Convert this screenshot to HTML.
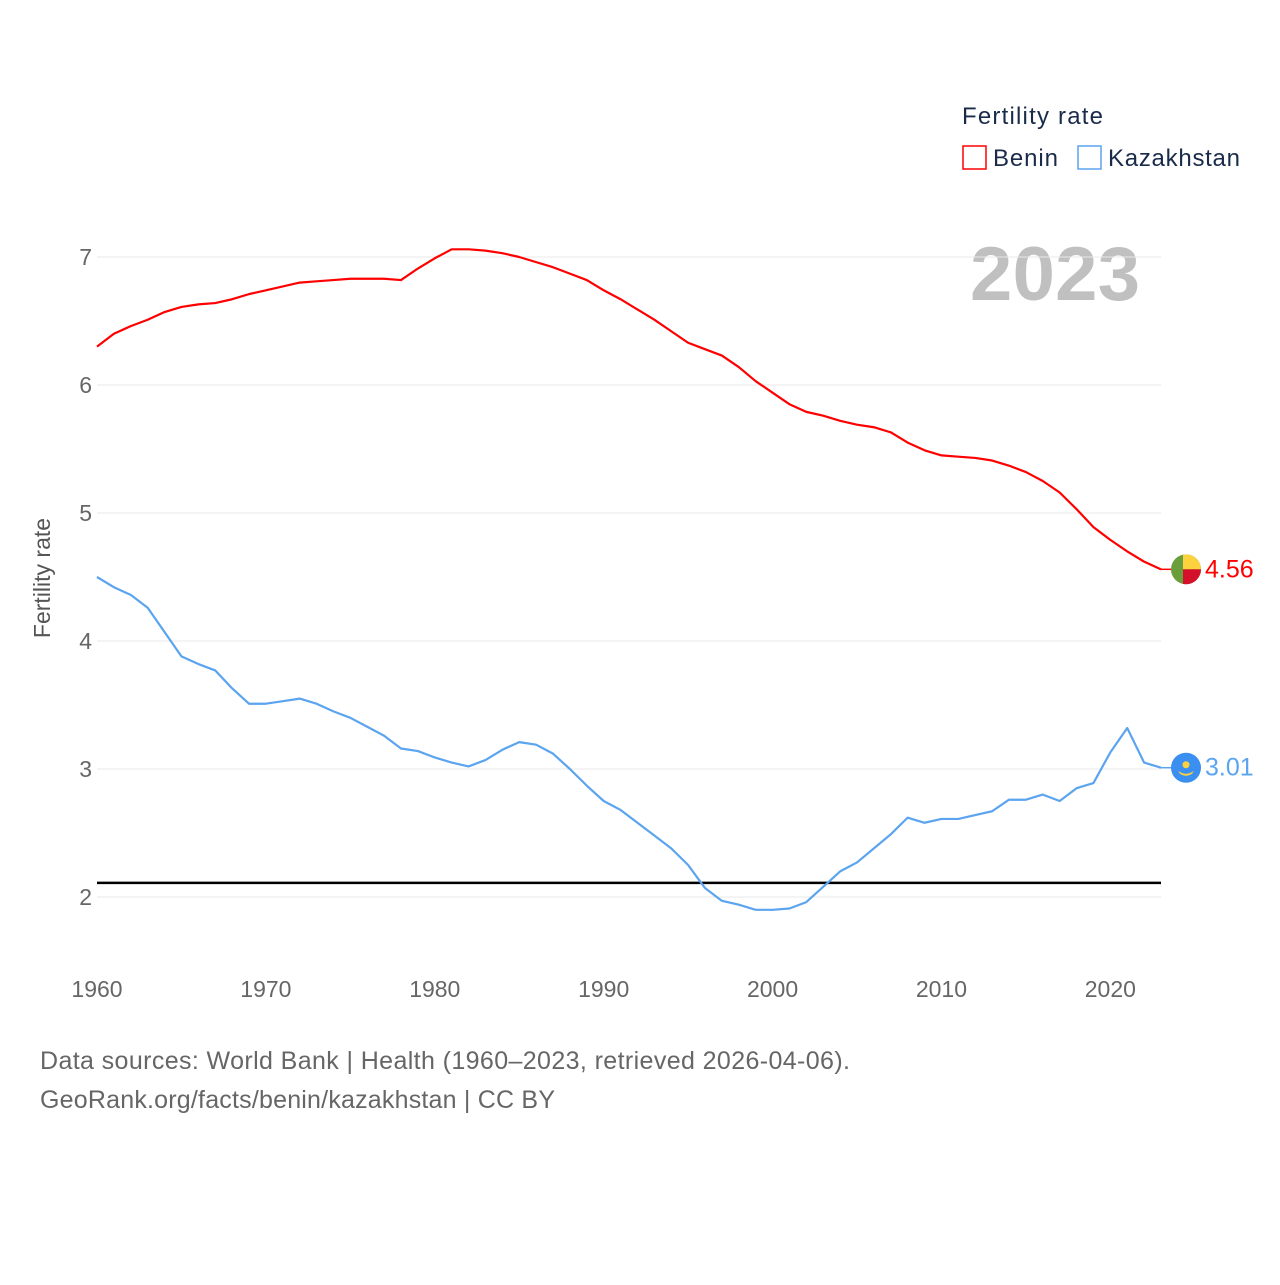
<!DOCTYPE html>
<html><head><meta charset="utf-8"><style>
body{margin:0;background:#fff;}
svg text{font-family:"Liberation Sans",sans-serif;}
</style></head><body>
<svg id="c" width="1280" height="1280" xmlns="http://www.w3.org/2000/svg">
<text x="962" y="124" font-size="24" fill="#1a2b4a" textLength="141">Fertility rate</text>
<g><rect x="963" y="146" width="23" height="23" fill="none" stroke="#ff0000" stroke-width="1.5"/><text x="993" y="166" font-size="24" fill="#1a2b4a" textLength="65">Benin</text></g>
<g><rect x="1078" y="146" width="23" height="23" fill="none" stroke="#5ba4ef" stroke-width="1.5"/><text x="1108" y="166" font-size="24" fill="#1a2b4a" textLength="132">Kazakhstan</text></g>
<text x="1140" y="300" font-size="76" font-weight="bold" fill="#c0c0c0" text-anchor="end" textLength="170">2023</text>
<text transform="translate(50,578) rotate(-90)" font-size="23" fill="#555" text-anchor="middle">Fertility rate</text>
<g id="grid"></g><g id="series"></g>
<text x="40" y="1069" font-size="25" fill="#666" textLength="810">Data sources: World Bank | Health (1960–2023, retrieved 2026-04-06).</text>
<text x="40" y="1108" font-size="25" fill="#666" textLength="515">GeoRank.org/facts/benin/kazakhstan | CC BY</text>
</svg>
<script>
const years=[];for(let y=1960;y<=2023;y++)years.push(y);
const yTicks=[2,3,4,5,6,7];
const xTicks=[1960,1970,1980,1990,2000,2010,2020];
const replacementRate=2.11;
const benin=[6.30,6.40,6.46,6.51,6.57,6.61,6.63,6.64,6.67,6.71,6.74,6.77,6.80,6.81,6.82,6.83,6.83,6.83,6.82,6.91,6.99,7.06,7.06,7.05,7.03,7.00,6.96,6.92,6.87,6.82,6.74,6.67,6.59,6.51,6.42,6.33,6.28,6.23,6.14,6.03,5.94,5.85,5.79,5.76,5.72,5.69,5.67,5.63,5.55,5.49,5.45,5.44,5.43,5.41,5.37,5.32,5.25,5.16,5.03,4.89,4.79,4.70,4.62,4.56];
const kaz=[4.50,4.42,4.36,4.26,4.07,3.88,3.82,3.77,3.63,3.51,3.51,3.53,3.55,3.51,3.45,3.40,3.33,3.26,3.16,3.14,3.09,3.05,3.02,3.07,3.15,3.21,3.19,3.12,3.00,2.87,2.75,2.68,2.58,2.48,2.38,2.25,2.07,1.97,1.94,1.90,1.90,1.91,1.96,2.08,2.20,2.27,2.38,2.49,2.62,2.58,2.61,2.61,2.64,2.67,2.76,2.76,2.80,2.75,2.85,2.89,3.13,3.32,3.05,3.01];
const X=y=>97+(y-1960)*(1161-97)/63;
const Y=v=>897-(v-2)*128;
const NS="http://www.w3.org/2000/svg";
function mk(t,a,p){const e=document.createElementNS(NS,t);for(const k in a)e.setAttribute(k,a[k]);p.appendChild(e);return e;}
const g=document.getElementById('grid'),s=document.getElementById('series');
yTicks.forEach(v=>{
 const l=mk('line',{x1:97,x2:1161,y1:Y(v),y2:Y(v),stroke:'#e8e8e8'},g);
 
 
 const t=mk('text',{x:92,y:Y(v)+8,'font-size':23,fill:'#666','text-anchor':'end'},g);t.textContent=v;
 
 
});
xTicks.forEach(v=>{
 const t=mk('text',{x:X(v),y:997,'font-size':23,fill:'#666','text-anchor':'middle'},g);t.textContent=v;
 
 
});
const rl=mk('line',{x1:97,x2:1161,y1:Y(replacementRate),y2:Y(replacementRate),stroke:'#000','stroke-width':2.5},s);


function line(d,c,name){
 const p=mk('polyline',{points:d.map((v,i)=>X(years[i])+','+Y(v)).join(' '),fill:'none',stroke:c,'stroke-width':2.2,'stroke-linejoin':'round'},s);
 
 
 const last=d[d.length-1];
 mk('line',{x1:1161,x2:1172,y1:Y(last),y2:Y(last),stroke:c,'stroke-width':1.5},s);
 const t=mk('text',{x:1205,y:Y(last)+8,'font-size':25,fill:c},s);t.textContent=last.toFixed(2);
 
 
 return Y(last);
}
const yb=line(benin,'#ff0000','benin-line');
const yk=line(kaz,'#5ba4ef','kazakhstan-line');
const fb=mk('g',{},s);


mk('clipPath',{id:'cb'},fb).appendChild(document.createElementNS(NS,'circle'));
const cc=fb.querySelector('circle');cc.setAttribute('cx',1186);cc.setAttribute('cy',yb);cc.setAttribute('r',15);
const cg=mk('g',{'clip-path':'url(#cb)'},fb);
mk('rect',{x:1171,y:yb-15,width:30,height:30,fill:'#6a9e3a'},cg);
mk('rect',{x:1183,y:yb-15,width:18,height:15,fill:'#fcd23f'},cg);
mk('rect',{x:1183,y:yb,width:18,height:15,fill:'#d5102a'},cg);
const fk=mk('g',{},s);


mk('circle',{cx:1186,cy:yk,r:15,fill:'#3b8ff0'},fk);
mk('circle',{cx:1186,cy:yk-3,r:3.5,fill:'#fcd23f'},fk);
mk('path',{d:`M1178 ${yk+3} Q1186 ${yk+9} 1194 ${yk+3} L1192 ${yk+6} Q1186 ${yk+10} 1180 ${yk+6}Z`,fill:'#fcd23f'},fk);
</script>
</body></html>
